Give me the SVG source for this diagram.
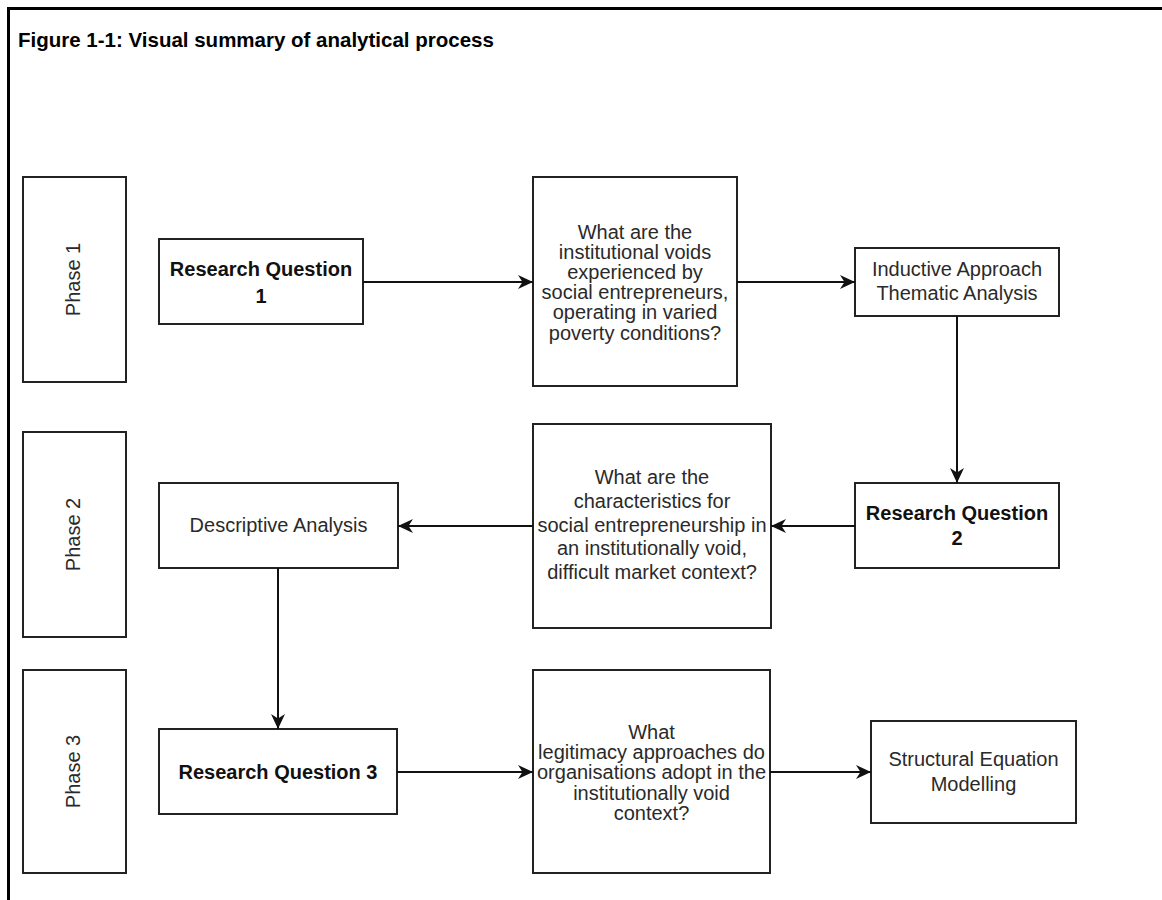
<svg xmlns="http://www.w3.org/2000/svg" width="1162" height="900" viewBox="0 0 1162 900">
  <style>
    .box { fill: #ffffff; stroke: #222222; stroke-width: 2; }
    .frame { stroke: #000000; stroke-width: 3; fill: none; }
    .edge { stroke: #111111; stroke-width: 2; fill: none; marker-end: url(#arrow); }
    .t { font-family: "Liberation Sans", Arial, sans-serif; font-size: 20px; fill: #2a2a2a; text-anchor: middle; }
    .b { font-family: "Liberation Sans", Arial, sans-serif; font-size: 20px; font-weight: bold; fill: #111111; text-anchor: middle; }
    .title { font-family: "Liberation Sans", Arial, sans-serif; font-size: 20.5px; font-weight: bold; fill: #000000; }
  </style>
  <defs>
    <marker id="arrow" markerUnits="userSpaceOnUse" markerWidth="16" markerHeight="15" refX="15" refY="7" orient="auto">
      <path d="M0,0 L15,7 L0,14 L4.5,7 Z" fill="#111111"/>
    </marker>
  </defs>

  <rect width="1162" height="900" fill="#ffffff"/>

  <!-- figure frame: top and left rules -->
  <g id="frame">
    <line class="frame" x1="7" y1="8.5" x2="1162" y2="8.5"/>
    <line class="frame" x1="8.5" y1="7" x2="8.5" y2="900"/>
  </g>

  <text id="title" class="title" x="18" y="47">Figure 1-1: Visual summary of analytical process</text>

  <!-- phase labels -->
  <g id="phase1">
    <rect class="box" x="23" y="177" width="103" height="205"/>
    <text class="t" transform="translate(80,279.5) rotate(-90)">Phase 1</text>
  </g>
  <g id="phase2">
    <rect class="box" x="23" y="432" width="103" height="205"/>
    <text class="t" transform="translate(80,534.5) rotate(-90)">Phase 2</text>
  </g>
  <g id="phase3">
    <rect class="box" x="23" y="670" width="103" height="203"/>
    <text class="t" transform="translate(80,771.5) rotate(-90)">Phase 3</text>
  </g>

  <!-- phase 1 row -->
  <g id="rq1">
    <rect class="box" x="159" y="239" width="204" height="85"/>
    <text class="b" x="261" y="276">Research Question</text>
    <text class="b" x="261" y="302.5">1</text>
  </g>
  <g id="q1">
    <rect class="box" x="533" y="177" width="204" height="209"/>
    <text class="t" x="635" y="238.5">What are the</text>
    <text class="t" x="635" y="258.7">institutional voids</text>
    <text class="t" x="635" y="278.9">experienced by</text>
    <text class="t" x="635" y="299.1">social entrepreneurs,</text>
    <text class="t" x="635" y="319.3">operating in varied</text>
    <text class="t" x="635" y="339.5">poverty conditions?</text>
  </g>
  <g id="inductive">
    <rect class="box" x="855" y="248" width="204" height="68"/>
    <text class="t" x="957" y="276">Inductive Approach</text>
    <text class="t" x="957" y="300">Thematic Analysis</text>
  </g>

  <!-- phase 2 row -->
  <g id="rq2">
    <rect class="box" x="855" y="483" width="204" height="85"/>
    <text class="b" x="957" y="520">Research Question</text>
    <text class="b" x="957" y="545">2</text>
  </g>
  <g id="q2">
    <rect class="box" x="533" y="424" width="238" height="204"/>
    <text class="t" x="652" y="484">What are the</text>
    <text class="t" x="652" y="507.8">characteristics for</text>
    <text class="t" x="652" y="531.6">social entrepreneurship in</text>
    <text class="t" x="652" y="555.4">an institutionally void,</text>
    <text class="t" x="652" y="579.2">difficult market context?</text>
  </g>
  <g id="descriptive">
    <rect class="box" x="159" y="483" width="239" height="85"/>
    <text class="t" x="278.5" y="531.5">Descriptive Analysis</text>
  </g>

  <!-- phase 3 row -->
  <g id="rq3">
    <rect class="box" x="159" y="729" width="238" height="85"/>
    <text class="b" x="278" y="778.5">Research Question 3</text>
  </g>
  <g id="q3">
    <rect class="box" x="533" y="670" width="237" height="203"/>
    <text class="t" x="651.5" y="739">What</text>
    <text class="t" x="651.5" y="759.2">legitimacy approaches do</text>
    <text class="t" x="651.5" y="779.4">organisations adopt in the</text>
    <text class="t" x="651.5" y="799.6">institutionally void</text>
    <text class="t" x="651.5" y="819.8">context?</text>
  </g>
  <g id="sem">
    <rect class="box" x="871" y="721" width="205" height="102"/>
    <text class="t" x="973.5" y="766">Structural Equation</text>
    <text class="t" x="973.5" y="791">Modelling</text>
  </g>

  <!-- connectors -->
  <g id="connectors">
    <line class="edge" x1="363" y1="282" x2="533" y2="282"/>
    <line class="edge" x1="737" y1="282" x2="855" y2="282"/>
    <line class="edge" x1="957" y1="316" x2="957" y2="483"/>
    <line class="edge" x1="855" y1="526" x2="771" y2="526"/>
    <line class="edge" x1="533" y1="526" x2="398" y2="526"/>
    <line class="edge" x1="278" y1="568" x2="278" y2="729"/>
    <line class="edge" x1="397" y1="772" x2="533" y2="772"/>
    <line class="edge" x1="770" y1="772" x2="871" y2="772"/>
  </g>
</svg>
